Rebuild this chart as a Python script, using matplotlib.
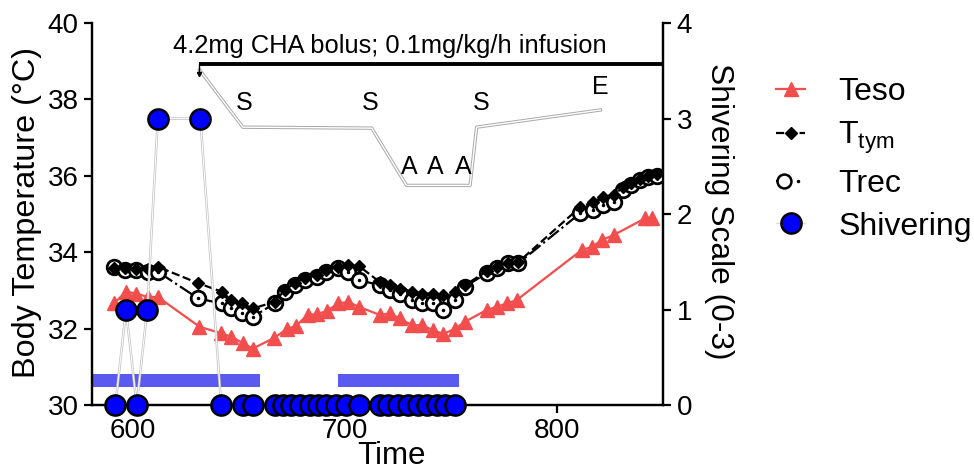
import matplotlib
matplotlib.use("Agg")
import matplotlib.pyplot as plt
import matplotlib.patheffects as pe
from matplotlib.lines import Line2D
from matplotlib.legend_handler import HandlerTuple
import numpy as np

plt.rcParams['font.family'] = ['Liberation Sans', 'DejaVu Sans']
plt.rcParams['mathtext.fontset'] = 'custom'
plt.rcParams['mathtext.rm'] = 'Liberation Sans'
plt.rcParams['mathtext.it'] = 'Liberation Sans:italic'

# oesophageal temperature
t_eso = [591.5, 597, 601.7, 607.2, 612, 631.6, 641.8, 646.6, 652, 656.7,
         666.5, 673, 677, 682.5, 686.7, 691.6, 696.8, 701.6, 706.7,
         716.5, 721.2, 725.9, 731.5, 736.2, 741.7, 746.4, 751.9, 756.6,
         766.8, 771.5, 776.2, 781, 811.6, 816.4, 821.1, 826.6, 841.5, 844.7]
teso = [32.67, 32.97, 32.92, 32.83, 32.83, 32.05, 31.88, 31.79, 31.62, 31.48,
        31.75, 32.0, 32.07, 32.36, 32.38, 32.46, 32.66, 32.70, 32.57,
        32.36, 32.40, 32.27, 32.09, 32.09, 31.96, 31.86, 32.0, 32.18,
        32.49, 32.57, 32.66, 32.75, 34.06, 34.14, 34.32, 34.45, 34.89, 34.89]

# tympanic and rectal temperature
t_core = [591.5, 596.5, 601.7, 607.2, 612, 631, 642, 646.6, 651.5, 656.7,
          667, 671.7, 676.4, 681.1, 686.7, 691.4, 696.8, 701.6, 706.7,
          716.5, 721.2, 725.9, 731.5, 736.2, 741.7, 746.4, 751.9, 756.6,
          766.8, 771.5, 777, 781.7, 810.8, 817.1, 821.8, 826.6,
          831, 835, 839, 843, 847]
ttym = [33.58, 33.58, 33.56, 33.56, 33.62, 33.19, 32.97, 32.75, 32.66, 32.53,
        32.70, 33.01, 33.19, 33.32, 33.40, 33.53, 33.62, 33.66, 33.64,
        33.22, 33.14, 33.05, 32.97, 32.92, 32.92, 32.88, 32.97, 33.14,
        33.50, 33.62, 33.72, 33.74, 35.18, 35.32, 35.45, 35.50,
        35.70, 35.82, 35.92, 36.00, 36.04]
trec = [33.62, 33.53, 33.53, 33.49, 33.49, 32.79, 32.66, 32.53, 32.40, 32.31,
        32.66, 32.97, 33.14, 33.27, 33.36, 33.49, 33.58, 33.49, 33.27,
        33.14, 33.01, 32.92, 32.75, 32.66, 32.66, 32.49, 32.75, 33.10,
        33.45, 33.58, 33.71, 33.71, 35.02, 35.10, 35.25, 35.32,
        35.62, 35.75, 35.88, 35.96, 36.00]

# shivering scale (0-3)
t_shiv = [592, 597, 602, 607, 612, 632, 641.8, 652, 656.7,
          667, 670.9, 674.9, 678.8, 683.5, 687.4, 691.4, 696, 700.8, 706.7,
          716.5, 720.4, 725, 729.9, 734.6, 738.5, 743.3, 747.2, 752]
shiv = [0, 1, 0, 1, 3, 3, 0, 0, 0,
        0, 0, 0, 0, 0, 0, 0, 0, 0, 0,
        0, 0, 0, 0, 0, 0, 0, 0, 0]

# blue bars
bar_start = [581, 696.8]
bar_end = [660, 754]

# event trace (S / A / E)
t_event = [631.6, 652, 712.7, 729.1, 759, 762.1, 820.3]
y_event = [3.51, 2.91, 2.90, 2.30, 2.30, 2.91, 3.09]
event_labels = ['S', 'S', 'A', 'A', 'A', 'S', 'E']
event_t = [652.8, 711.8, 730.2, 742.5, 755.7, 764.2, 820.3]
event_y = [3.16, 3.16, 2.49, 2.49, 2.49, 3.16, 3.33]

red = '#F24E4E'
blue_bar = '#5A5AF0'

fig = plt.figure(figsize=(9.74, 4.71), dpi=100)
ax = fig.add_axes([0.0945, 0.140, 0.5865, 0.811])
ax2 = ax.twinx()

ax.barh([30.65] * len(bar_start), np.array(bar_end) - np.array(bar_start),
        left=bar_start, height=0.35, color=blue_bar, zorder=1)

ax.plot(t_eso, teso, color=red, lw=1.6, marker='^', ms=10, mec=red, zorder=3)
ax.plot(t_core, trec, color='black', lw=1.6, ls='-.', marker='o', ms=10.5,
        mfc='white', mec='black', mew=2.0, zorder=4)
ax.plot(t_core, trec, ls='none', marker='.', ms=3, color='black', zorder=4)
ax.plot(t_core, ttym, color='black', lw=1.6, ls='--', marker='D', ms=6.5,
        zorder=5)

ax.set_xlim(581, 850)
ax.set_ylim(30, 40)
ax.set_yticks(np.arange(30, 41, 2))
ax.set_xticks([600, 700, 800])
ax2.set_ylim(0, 4)
ax2.set_yticks([0, 1, 2, 3, 4])

# shivering
outline = [pe.Stroke(linewidth=1.8, foreground='#c4c4c4'), pe.Normal()]
ax2.plot(t_shiv, shiv, color='white', lw=0.7, path_effects=outline,
         zorder=2, clip_on=False)
ax2.plot(t_shiv, shiv, ls='none', marker='o', ms=14.5, mfc='#0000FF',
         mec='black', mew=1.8, zorder=6, clip_on=False)

# event trace and labels
ax2.plot(t_event, y_event, color='white', lw=1.0,
         path_effects=[pe.Stroke(linewidth=2.4, foreground='#a8a8a8'),
                       pe.Normal()], zorder=2)
for lab, tx, ty in zip(event_labels, event_t, event_y):
    ax2.text(tx, ty, lab, fontsize=18, ha='center', va='center')

# bolus / infusion line
ax2.plot([631.6, 850], [3.57, 3.57], color='black', lw=2.8,
         solid_capstyle='butt', clip_on=False, zorder=3)
ax2.plot([631.6, 631.6], [3.57, 3.47], color='black', lw=1.0, zorder=3)
ax2.plot([631.6], [3.47], marker='v', ms=3, color='black', zorder=3)
ax2.text(721, 3.76, '4.2mg CHA bolus; 0.1mg/kg/h infusion', fontsize=18.4,
         ha='center', va='center')

for a in (ax, ax2):
    a.spines['top'].set_visible(False)
    for s in ('left', 'right', 'bottom'):
        a.spines[s].set_linewidth(1.6)
    a.tick_params(labelsize=20, width=1.6, length=6, direction='out')

ax.set_xlabel('Time', fontsize=22.5)
ax.xaxis.set_label_coords(0.524, -0.094)
ax.set_ylabel('Body Temperature (\u00b0C)', fontsize=23.3)
ax.yaxis.set_label_coords(-0.088, 0.505)
ax2.set_ylabel('Shivering Scale (0-3)', fontsize=22.9, rotation=270,
               va='center')
ax2.yaxis.set_label_coords(1.098, 0.508)

h_eso = Line2D([], [], color=red, lw=1.6, marker='^', ms=10, mec=red)
h_tym = Line2D([], [], color='black', lw=1.6, ls='--', marker='D', ms=6.5)
h_rec = (Line2D([], [], color='black', lw=1.6, ls='-.', marker='o', ms=10,
                mfc='white', mew=1.8),
         Line2D([], [], ls='none', marker='.', ms=3, color='black'))
h_shv = Line2D([], [], color='#dddddd', lw=1.0, marker='o', ms=14.5,
               mfc='#0000FF', mec='black', mew=1.8)
fig.legend([h_eso, h_tym, h_rec, h_shv],
           ['Teso', r'T$_{\mathrm{tym}}$', 'Trec', 'Shivering'],
           handler_map={tuple: HandlerTuple(ndivide=None, pad=0)},
           loc='upper left', bbox_to_anchor=(0.797, 0.8365), frameon=False,
           fontsize=23, handlelength=0.91, handletextpad=1.03,
           labelspacing=0.40, borderpad=0, borderaxespad=0)

fig.savefig('out.png', dpi=100)
